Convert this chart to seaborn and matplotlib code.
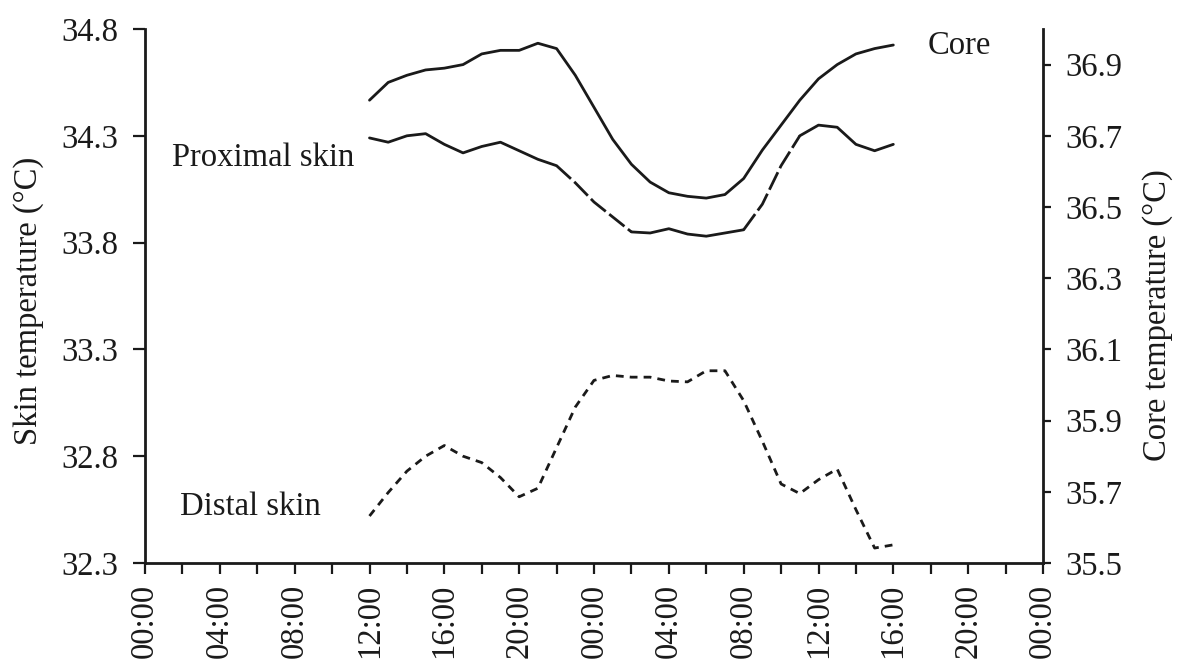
import matplotlib
matplotlib.use("Agg")
import matplotlib.pyplot as plt
import seaborn as sns
import numpy as np
import pandas as pd
from matplotlib.ticker import FixedLocator, MultipleLocator

# ---------------- data ----------------
hours = list(range(12, 41))  # hours since 00:00 of day 1
core = [36.80, 36.85, 36.87, 36.885, 36.89, 36.90, 36.93, 36.94, 36.94, 36.96,
        36.945, 36.87, 36.78, 36.69, 36.62, 36.57, 36.54, 36.53, 36.525, 36.535,
        36.58, 36.66, 36.73, 36.80, 36.86, 36.90, 36.93, 36.945, 36.955]
proximal = [34.29, 34.27, 34.30, 34.31, 34.26, 34.22, 34.25, 34.27, 34.23, 34.19,
            34.16, 34.08, 33.99, 33.92, 33.85, 33.845, 33.865, 33.84, 33.83, 33.845,
            33.86, 33.98, 34.16, 34.30, 34.35, 34.34, 34.26, 34.23, 34.26]
distal = [32.52, 32.63, 32.73, 32.80, 32.85, 32.80, 32.77, 32.70, 32.61, 32.65,
          32.84, 33.03, 33.155, 33.178, 33.17, 33.17, 33.152, 33.148, 33.20, 33.20,
          33.06, 32.87, 32.67, 32.625, 32.69, 32.74, 32.55, 32.37, 32.385]

xtick_pos = list(range(0, 49, 4))
xtick_labels = ["00:00", "04:00", "08:00", "12:00", "16:00", "20:00", "00:00",
                "04:00", "08:00", "12:00", "16:00", "20:00", "00:00"]
skin_ticks = [32.3, 32.8, 33.3, 33.8, 34.3, 34.8]
core_ticks = [35.5, 35.7, 35.9, 36.1, 36.3, 36.5, 36.7, 36.9]

df = pd.DataFrame({"hour": hours, "core": core, "proximal": proximal, "distal": distal})

# ---------------- style ----------------
sns.set_theme(style="ticks")
plt.rcParams["font.family"] = ["Liberation Serif", "DejaVu Serif"]
INK = "#1a1a1a"
FS = 23.5

fig = plt.figure(figsize=(11.82, 6.68), dpi=100)
fig.patch.set_facecolor("white")
ax = fig.add_axes([145 / 1182, 1 - 563 / 668, (1043 - 145) / 1182, (563 - 29) / 668])
ax2 = ax.twinx()

lw = 2.0
# proximal: solid on plateaus, long-dashed on transitions
segments = [(0, 11, "-"), (10, 15, (0, (7, 1.6))), (14, 21, "-"),
            (20, 24, (0, (7, 1.6))), (23, 29, "-")]
for a, b, ls in segments:
    sns.lineplot(data=df.iloc[a:b], x="hour", y="proximal", ax=ax, color=INK,
                 linewidth=lw, linestyle=ls, legend=False,
                 solid_joinstyle="round", dash_joinstyle="round")
sns.lineplot(data=df, x="hour", y="distal", ax=ax, color=INK, linewidth=lw,
             linestyle=(0, (2.8, 2.2)), legend=False, dash_joinstyle="round")
sns.lineplot(data=df, x="hour", y="core", ax=ax2, color=INK, linewidth=lw,
             legend=False, solid_joinstyle="round")

# ---------------- axes ----------------
ax.set_xlim(0, 48)
ax.set_ylim(32.3, 34.8)
ax2.set_ylim(35.5, 37.0)

ax.xaxis.set_major_locator(FixedLocator(xtick_pos))
ax.set_xticklabels(xtick_labels, rotation=90, fontsize=FS, color=INK)
ax.xaxis.set_minor_locator(MultipleLocator(2))
ax.set_yticks(skin_ticks)
ax.set_yticklabels([f"{v:.1f}" for v in skin_ticks], fontsize=FS, color=INK)
ax2.set_yticks(core_ticks)
ax2.set_yticklabels([f"{v:.1f}" for v in core_ticks], fontsize=FS, color=INK)

ax.tick_params(axis="x", which="both", direction="out", length=8, width=1.6,
               color=INK, pad=7)
ax.tick_params(axis="y", which="both", direction="out", length=8.5, width=1.6,
               color=INK, pad=10.5)
ax2.tick_params(axis="y", which="both", direction="out", length=6, width=1.6,
                color=INK, pad=10)

ax.spines["top"].set_visible(False)
ax.spines["right"].set_visible(False)
for s in ("top", "left", "bottom"):
    ax2.spines[s].set_visible(False)
for s in ("left", "bottom"):
    ax.spines[s].set_linewidth(2.0)
    ax.spines[s].set_color(INK)
ax2.spines["right"].set_linewidth(2.0)
ax2.spines["right"].set_color(INK)

ax.set_xlabel("")
ax.set_ylabel("Skin temperature (°C)", fontsize=FS, color=INK)
ax2.set_ylabel("Core temperature (°C)", fontsize=FS, color=INK)
ax.yaxis.label.set(ha="center", va="center", rotation_mode="default")
ax2.yaxis.label.set(ha="center", va="center", rotation_mode="default")
ax.yaxis.set_label_coords(-0.1292, 0.4906)
ax2.yaxis.set_label_coords(1.128, 0.4644)

# series labels
ax.text(1.44, 34.16, "Proximal skin", fontsize=FS, color=INK, ha="left", va="baseline")
ax.text(1.87, 32.524, "Distal skin", fontsize=FS, color=INK, ha="left", va="baseline")
ax2.text(41.85, 36.93, "Core", fontsize=FS, color=INK, ha="left", va="baseline")

fig.savefig("out.png", dpi=100, facecolor="white")
